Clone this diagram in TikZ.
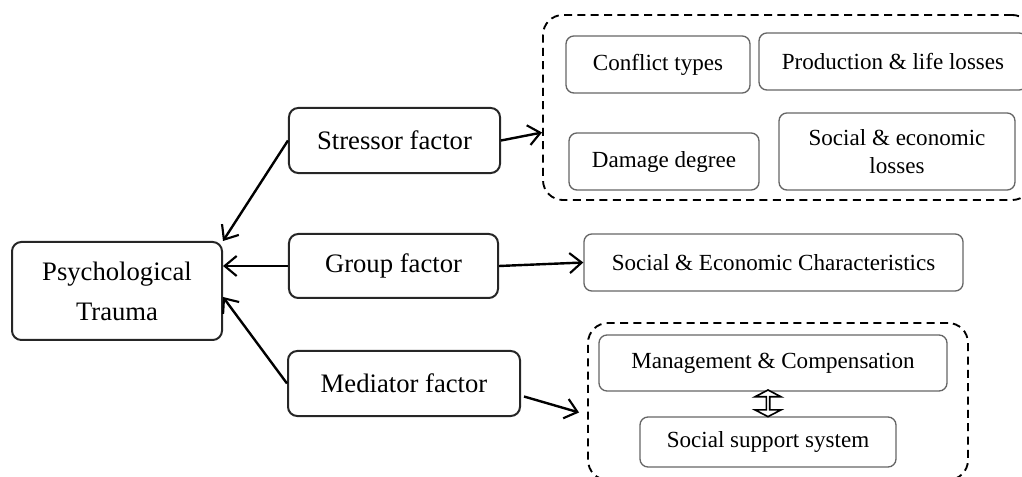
\documentclass[tikz,border=0pt]{standalone}
\usepackage{fontspec}
\setmainfont{Liberation Serif}
\usetikzlibrary{arrows.meta,shapes.arrows,calc}

\tikzset{
  factor/.style={draw=black!85, line width=1.5pt, rounded corners=7pt, inner sep=0pt,
    align=center, font=\fontsize{20}{30}\selectfont},
  item/.style={draw=black!60, line width=1pt, rounded corners=6pt, inner sep=0pt,
    align=center, font=\fontsize{17.3}{21}\selectfont},
  dashbox/.style={draw, line width=1.4pt, dash pattern=on 6pt off 4pt, rounded corners=15pt, inner sep=0pt},
  link/.style={line width=1.8pt, -{Straight Barb[length=9pt,width=15pt,line width=1.6pt]}},
  twoway/.style={double arrow, draw, line width=1.2pt, fill=white, inner sep=0pt,
    minimum width=19.5pt, minimum height=20pt, double arrow head extend=4pt, double arrow tip angle=125},
}

\begin{document}
\begin{tikzpicture}[x=0.75pt, y=-0.75pt]
    \clip (0,0) rectangle (1022,477);

    % factors
    \node[factor, minimum width=157.5pt, minimum height=73.5pt] (trauma)   at (117,291)   {Psychological\\Trauma};
    \node[factor, minimum width=158.3pt, minimum height=48.8pt] (stressor) at (394.5,140.5) {Stressor factor};
    \node[factor, minimum width=156.8pt, minimum height=48pt]   (group)    at (393.5,266) {Group factor};
    \node[factor, minimum width=174pt,   minimum height=48.8pt] (mediator) at (404,383.5) {Mediator factor};

    % stressor items
    \node[dashbox, minimum width=366.8pt, minimum height=138.8pt] (stressbox) at (787.5,107.5) {};
    \node[item, minimum width=138pt, minimum height=42.8pt] (conflict) at (658,64.5)  {Conflict types};
    \node[item, minimum width=201pt, minimum height=42.8pt] (prodloss) at (893,61.5)  {Production \& life losses};
    \node[item, minimum width=142.5pt, minimum height=42.8pt] (damage) at (664,161.5) {Damage degree};
    \node[item, minimum width=177pt, minimum height=57.8pt] (socloss)  at (897,151.5) {Social \& economic\\losses};

    % group item
    \node[item, minimum width=284.3pt, minimum height=42.8pt] (socchar) at (773.5,262.5) {Social \& Economic Characteristics};

    % mediator items
    \node[dashbox, minimum width=285pt, minimum height=117.8pt] (medbox) at (778,401.5) {};
    \node[item, minimum width=261pt, minimum height=42pt]   (mgmt)    at (773,363) {Management \& Compensation};
    \node[item, minimum width=192pt, minimum height=37.5pt] (support) at (768,442) {Social support system};
    \node[twoway, rotate=90] (mgmtsup) at ($(support.north)+(0,-13)$) {};

    \draw[link] (stressor.west) -- (trauma.north east);
    \draw[link] (group.west) -- (group.west -| trauma.east);
    \draw[link] (mediator.west) -- ($(trauma.east)+(0,6)$);
    \draw[link] (stressor.east) -- ($(stressbox.west)+(0,25)$);
    \draw[link] (group.east) -- (socchar.west);
    \draw[link] ($(mediator.east)+(3,13)$) -- ($(medbox.west)+(-8,11)$);
\end{tikzpicture}
\end{document}
